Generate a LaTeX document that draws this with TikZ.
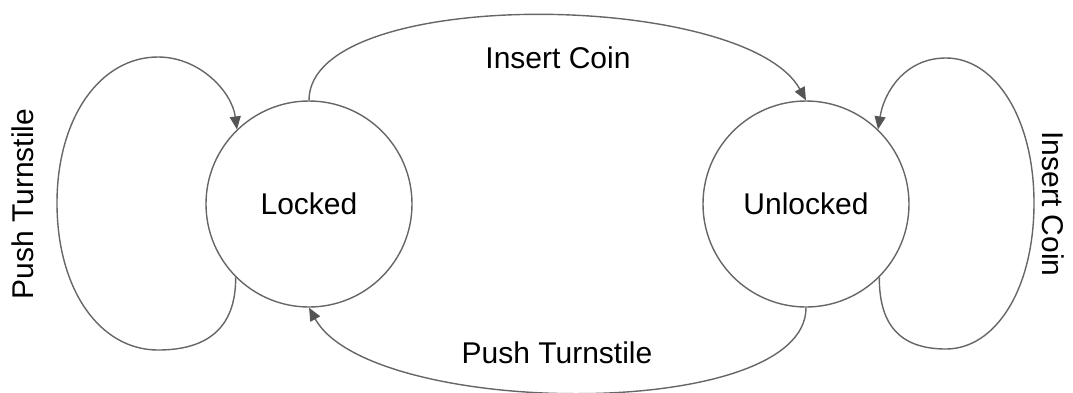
\documentclass[tikz,border=0pt]{standalone}
\usepackage{fontspec}
\setmainfont{Liberation Sans}
\usetikzlibrary{arrows.meta}
\definecolor{edgegray}{HTML}{666666}
\definecolor{tipgray}{HTML}{555555}
\tikzset{
  state/.style={circle, draw=edgegray, line width=1.4pt, minimum size=206pt, inner sep=0pt, font=\fontsize{30}{36}\selectfont},
  trans/.style={draw=edgegray, line width=1.4pt, -{Triangle[length=13pt,width=11pt,color=tipgray]}},
  lbl/.style={font=\fontsize{30}{36}\selectfont, inner sep=0pt, anchor=base}
}
\begin{document}
\begin{tikzpicture}[x=1pt,y=-1pt]
\useasboundingbox (0,0) rectangle (1073,392);

% states
\node[state] (L) at (309,204) {Locked};
\node[state] (U) at (806,204) {Unlocked};

% Locked -> Unlocked on coin
\draw[trans] (L.90) .. controls (309,-15) and (745,-10) .. (U.90);
% Unlocked -> Locked on push
\draw[trans] (U.270) .. controls (806,423) and (370,418) .. (L.270);
% Locked self-loop on push
\draw[trans] (L.225) .. controls (236,330) and (205,350) .. (158,350)
  .. controls (100,350) and (57,290) .. (57,203)
  .. controls (57,118) and (100,57) .. (158,57)
  .. controls (200,57) and (232,92) .. (L.134);
% Unlocked self-loop on coin
\draw[trans] (U.315) .. controls (879,330) and (905,349) .. (946,349)
  .. controls (995,349) and (1034,290) .. (1034,203)
  .. controls (1034,118) and (995,58) .. (946,58)
  .. controls (905,58) and (884,92) .. (U.46);

% transition labels
\node[lbl] (tc) at (558,68) {Insert Coin};
\node[lbl] (bp) at (557,363) {Push Turnstile};
\node[lbl, rotate=90] (lp) at (33,204) {Push Turnstile};
\node[lbl, rotate=-90] (rc) at (1042,204) {Insert Coin};
\end{tikzpicture}
\end{document}
